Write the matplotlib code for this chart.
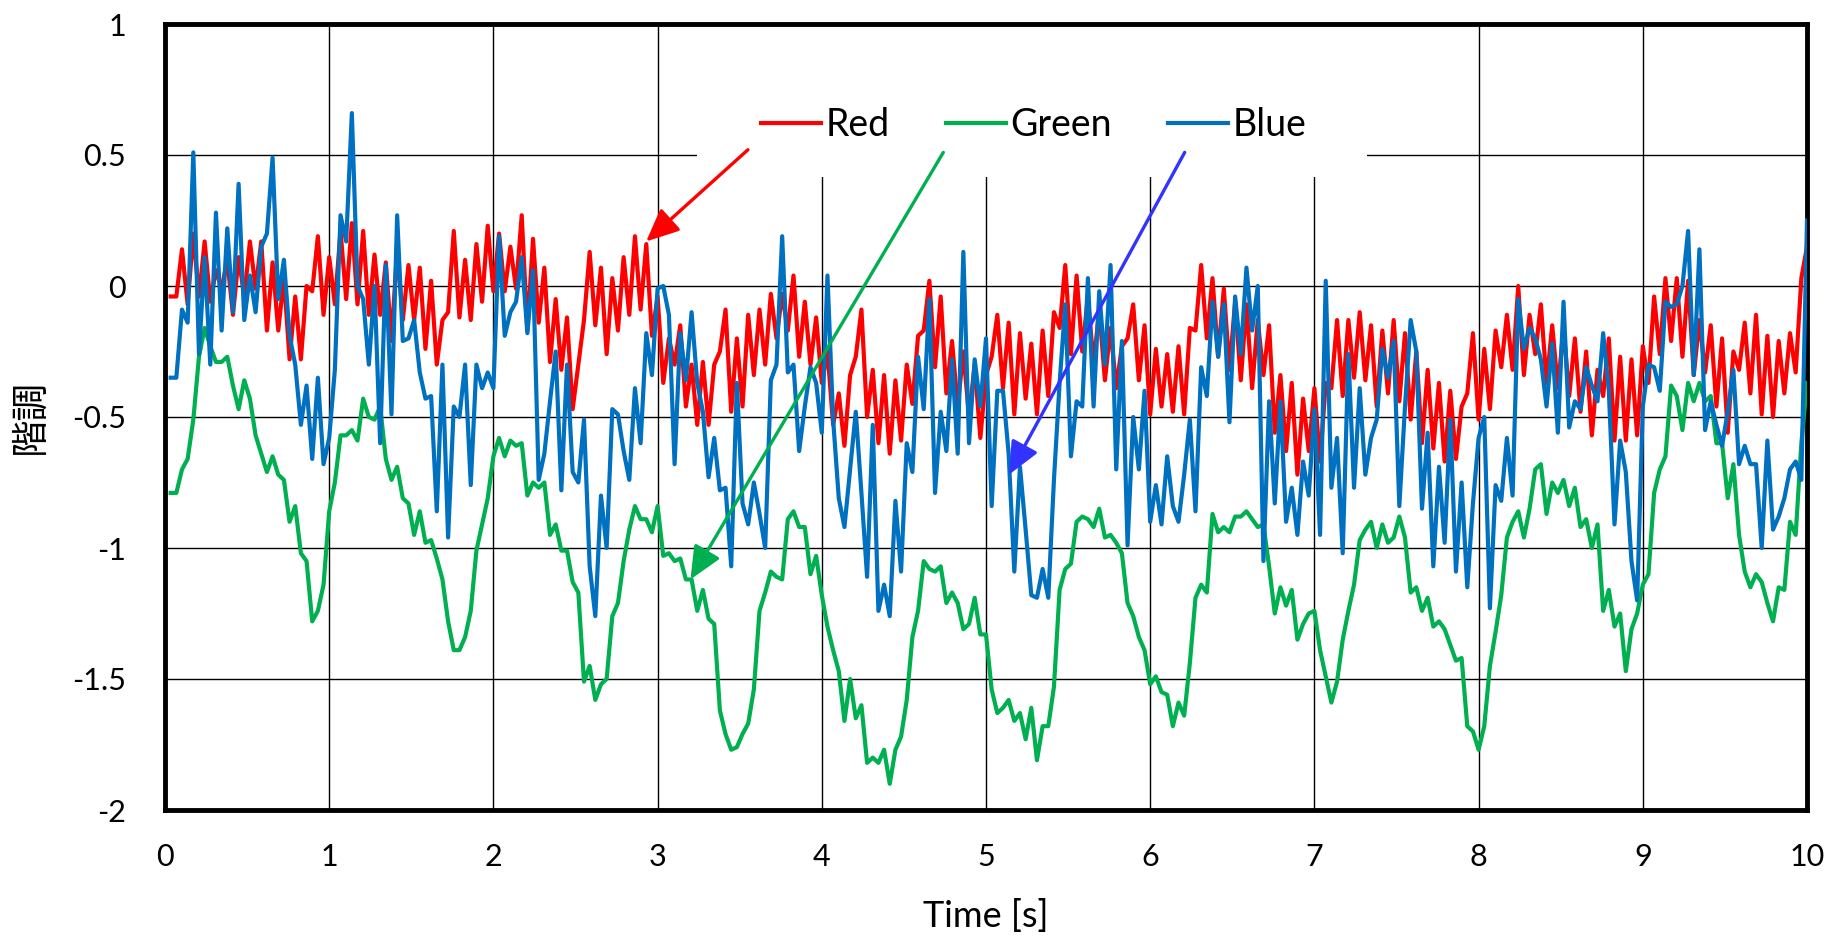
import numpy as np
import matplotlib.pyplot as plt
from matplotlib.patches import Rectangle

plt.rcParams['font.family'] = ['Lato', 'Noto Sans CJK JP', 'DejaVu Sans']

# samples, 29 per second
fps = 29
red = [
    -0.04, -0.04, 0.14, -0.07, 0.20, -0.04, 0.17, -0.06, 0.06, -0.01,
    0.10, -0.11, 0.11, -0.04, 0.17, -0.01, 0.17, -0.17, 0.09, -0.17,
    0.03, -0.28, -0.04, -0.28, 0.00, -0.02, 0.19, -0.11, 0.11, -0.07,
    0.21, -0.05, 0.24, -0.07, 0.21, -0.11, 0.12, -0.11, 0.09, -0.21,
    0.14, -0.13, 0.08, -0.13, 0.07, -0.24, 0.02, -0.30, -0.13, -0.10,
    0.21, -0.12, 0.10, -0.13, 0.16, -0.06, 0.23, -0.02,
    0.20, -0.02, 0.15, -0.01, 0.27, -0.17, 0.18, -0.14, 0.07, -0.29,
    -0.05, -0.32, -0.12, -0.47, -0.30, -0.13, 0.13, -0.15, 0.07, -0.26,
    0.03, -0.17, 0.11, -0.11, 0.19, -0.09, 0.16, -0.19, -0.04, -0.37,
    -0.20, -0.30, -0.15, -0.46, -0.30, -0.53, -0.29, -0.53, -0.30, -0.25,
    -0.09, -0.48,
    -0.20, -0.46, -0.11, -0.34, -0.09, -0.30,
    -0.03, -0.20, -0.03, -0.17, 0.04, -0.27, -0.06, -0.30, -0.12, -0.37,
    -0.25, -0.53, -0.41, -0.61, -0.34, -0.27, -0.09, -0.50, -0.32, -0.60,
    -0.34, -0.64, -0.36, -0.59, -0.30, -0.45, -0.19, -0.17, 0.02, -0.31,
    -0.04, -0.41, -0.21, -0.46, -0.25, -0.50, -0.30, -0.58, -0.34, -0.27,
    -0.11, -0.39, -0.14,
    -0.49, -0.18, -0.43, -0.22, -0.49, -0.17,
    -0.42, -0.10, -0.16, 0.08, -0.26, 0.04, -0.25, -0.04, -0.30, -0.09,
    -0.36, -0.16, -0.39, -0.23, -0.20, -0.07, -0.36, -0.15, -0.49, -0.24,
    -0.46, -0.26, -0.48, -0.23, -0.49, -0.16, -0.17, 0.08, -0.20, 0.03,
    -0.27, -0.01, -0.32, -0.06, -0.36, -0.07, -0.39, -0.13, -0.34, -0.15,
    -0.56, -0.34, -0.63, -0.37,
    -0.72, -0.43, -0.63, -0.39,
    -0.67, -0.37, -0.39, -0.13, -0.42, -0.13, -0.35, -0.10, -0.36, -0.15,
    -0.46, -0.17, -0.41, -0.13, -0.44, -0.18, -0.51, -0.25, -0.60, -0.32,
    -0.62, -0.37, -0.67, -0.40, -0.66, -0.46, -0.41, -0.18, -0.51, -0.24,
    -0.47, -0.17, -0.31, -0.11, -0.32, 0.00, -0.34, -0.11, -0.26, -0.07,
    -0.37, -0.15, -0.39, -0.16, -0.42,
    -0.20, -0.48, -0.25, -0.57, -0.32,
    -0.42, -0.20, -0.59, -0.27, -0.59, -0.28, -0.57, -0.23, -0.37, -0.04,
    -0.26, 0.03, -0.21, 0.03, -0.27, 0.02, -0.34, -0.13, -0.33, -0.15,
    -0.46, -0.20, -0.56, -0.25, -0.32, -0.14, -0.41, -0.11, -0.49, -0.19,
    -0.50, -0.21, -0.41, -0.18, -0.33, 0.03, 0.15,
]
green = [
    -0.79, -0.79, -0.70, -0.66, -0.51, -0.27, -0.16, -0.23, -0.29, -0.29,
    -0.27, -0.38, -0.47, -0.36, -0.43, -0.57, -0.64, -0.71, -0.65, -0.72,
    -0.74, -0.90, -0.84, -1.02, -1.05, -1.28, -1.24, -1.14, -0.86, -0.75,
    -0.57, -0.57, -0.55, -0.59, -0.43, -0.50, -0.51, -0.46, -0.66, -0.74,
    -0.69, -0.81, -0.83, -0.95, -0.86, -0.98, -0.97, -1.04, -1.12, -1.28,
    -1.39, -1.39, -1.34, -1.24, -1.01, -0.91, -0.81, -0.65, -0.58,
    -0.65, -0.59, -0.61, -0.60, -0.80, -0.75, -0.77, -0.75, -0.95, -0.91,
    -1.01, -1.01, -1.13, -1.17, -1.51, -1.45, -1.58, -1.52, -1.50, -1.26,
    -1.21, -1.05, -0.93, -0.84, -0.89, -0.89, -0.94, -0.84, -1.03, -1.02,
    -1.05, -1.04, -1.12, -1.12, -1.24, -1.16, -1.27, -1.29, -1.62, -1.71,
    -1.77,
    -1.76, -1.71, -1.67, -1.54, -1.24, -1.17, -1.09, -1.11, -1.12,
    -0.89, -0.86, -0.92, -0.92, -1.10, -1.03, -1.18, -1.30, -1.39, -1.47,
    -1.66, -1.50, -1.65, -1.60, -1.82, -1.80, -1.82, -1.77, -1.90, -1.77,
    -1.72, -1.58, -1.34, -1.24, -1.05, -1.08, -1.09, -1.07, -1.21, -1.17,
    -1.21, -1.31, -1.29, -1.19, -1.33, -1.33, -1.54, -1.63, -1.61, -1.58,
    -1.66,
    -1.63, -1.73, -1.61, -1.81, -1.68, -1.68, -1.53,
    -1.16, -1.08, -1.06, -0.90, -0.88, -0.89, -0.92, -0.85, -0.96, -0.95,
    -0.98, -1.02, -1.21, -1.26, -1.34, -1.39, -1.52, -1.49, -1.55, -1.56,
    -1.68, -1.59, -1.64, -1.44, -1.19, -1.14, -1.17, -0.87, -0.94, -0.92,
    -0.94, -0.88, -0.88, -0.86, -0.89, -0.92, -0.91, -1.07, -1.25, -1.15,
    -1.22, -1.16,
    -1.35, -1.29, -1.25, -1.24,
    -1.39, -1.49, -1.59, -1.51, -1.35, -1.24, -1.14, -0.97, -0.93, -0.90,
    -1.00, -0.91, -0.98, -0.96, -0.88, -0.96, -1.17, -1.15, -1.24, -1.19,
    -1.30, -1.28, -1.31, -1.37, -1.43, -1.42, -1.68, -1.70, -1.77, -1.68,
    -1.45, -1.32, -1.18, -0.96, -0.90, -0.86, -0.96, -0.85, -0.70, -0.68,
    -0.87, -0.75, -0.79, -0.74, -0.84, -0.77,
    -0.92, -0.89, -1.00, -0.91,
    -1.24, -1.16, -1.30, -1.25, -1.47, -1.31, -1.25, -1.14, -1.10, -0.79,
    -0.70, -0.65, -0.38, -0.42, -0.55, -0.37, -0.44, -0.37, -0.44, -0.42,
    -0.60, -0.60, -0.81, -0.68, -0.95, -1.09, -1.15, -1.10, -1.13, -1.21,
    -1.28, -1.15, -1.16, -0.90, -0.95, -0.60, -0.37,
]
blue = [
    -0.35, -0.35, -0.09, -0.14, 0.51, -0.26, 0.11, -0.30, 0.28, -0.17,
    0.22, -0.10, 0.39, -0.13, 0.04, -0.10, 0.15, 0.20, 0.49, -0.05,
    0.10, -0.19, -0.30, -0.53, -0.38, -0.66, -0.35, -0.68, -0.58, -0.32,
    0.27, 0.17, 0.66, 0.00, -0.05, -0.30, 0.00, -0.60, 0.08, -0.49,
    0.27, -0.21, -0.20, -0.13, -0.33, -0.43, -0.42, -0.86, -0.30, -0.96,
    -0.46, -0.50, -0.30, -0.76, -0.30, -0.39, -0.33, -0.39, 0.19,
    -0.19, -0.10, -0.06, 0.11, -0.18, 0.06, -0.74, -0.64, -0.44, -0.25,
    -0.78, -0.30, -0.71, -0.75, -0.51, -1.07, -1.26, -0.80, -1.00, -0.47,
    -0.49, -0.63, -0.74, -0.39, -0.60, -0.18, -0.34, -0.01, 0.00, -0.11,
    -0.68, -0.18, -0.36, -0.10, -0.37, -0.48, -0.73, -0.58, -0.78, -0.77,
    -1.07,
    -0.37, -0.83, -0.91, -0.75, -0.87, -1.00, -0.36, -0.30,
    0.19, -0.33, -0.30, -0.63, -0.46, -0.31, -0.37, -0.56, 0.04, -0.51,
    -0.81, -0.92, -0.70, -0.48, -0.79, -1.11, -0.53, -1.24, -1.14, -1.26,
    -0.82, -1.09, -0.60, -0.71, -0.27, -0.47, -0.05, -0.79, -0.48, -0.63,
    -0.28, -0.64, 0.13, -0.60, -0.28, -0.46, -0.20, -0.84, -0.40, -0.40,
    -0.64, -1.09,
    -0.69, -0.93, -1.18, -1.19, -1.08, -1.19, -0.74, -0.37,
    -0.07, -0.65, -0.44, -0.46, 0.03, -0.46, -0.02, -0.30, 0.08, -0.70,
    -0.21, -0.99, -0.50, -0.70, -0.40, -0.90, -0.76, -0.91, -0.65, -0.84,
    -0.90, -0.72, -0.51, -0.86, -0.31, -0.42, -0.06, -0.27, -0.07, -0.52,
    -0.04, -0.26, 0.07, -0.17, 0.00, -1.05, -0.44, -0.83, -0.44, -0.90,
    -0.77,
    -0.95, -0.67, -0.80, -0.47,
    -0.95, 0.02, -0.77, -0.58, -1.02, -0.26, -0.77, -0.39, -0.72, -0.58,
    -0.51, -0.24, -0.35, -0.21, -0.84, -0.46, -0.13, -0.25, -0.85, -0.56,
    -1.07, -0.69, -0.98, -0.51, -1.09, -0.75, -1.15, -0.83, -0.58, -0.50,
    -1.23, -0.76, -0.82, -0.58, -0.80, -0.05, -0.24, -0.16, -0.20, -0.28,
    -0.46, -0.22, -0.56, -0.06, -0.54,
    -0.44, -0.47, -0.31, -0.38, -0.44,
    -0.18, -0.40, -0.91, -0.59, -0.71, -1.05, -1.20, -0.46, -0.30, -0.31,
    -0.40, -0.06, -0.08, -0.07, 0.00, 0.21, -0.34, 0.14, -0.55, -0.44,
    -0.53, -0.61, -0.48, -0.32, -0.68, -0.61, -0.68, -0.68, -1.00, -0.59,
    -0.93, -0.88, -0.81, -0.70, -0.67, -0.74, 0.25,
]
series_names = ['Red', 'Green', 'Blue']
series_colors = ['#FF0000', '#00B050', '#0070C0']
arrow_colors = ['#FF0000', '#00B050', '#3333FF']
# arrow (tail, head) in data units
arrow_tails = [(3.55, 0.52), (4.74, 0.51), (6.21, 0.51)]
arrow_heads = [(2.93, 0.17), (3.20, -1.12), (5.14, -0.72)]
xticks = list(range(0, 11))
yticks = [-2, -1.5, -1, -0.5, 0, 0.5, 1]
ytick_labels = ['-2', '-1.5', '-1', '-0.5', '0', '0.5', '1']

t = np.arange(1, len(red) + 1) / fps

fig = plt.figure(figsize=(18.3, 9.4), dpi=100)
ax = fig.add_axes([165 / 1830, 1 - 810 / 940, (1807 - 165) / 1830, (810 - 24) / 940])

for vals, name, col in zip([red, green, blue], series_names, series_colors):
    ax.plot(t, vals, color=col, lw=3.0, label=name, zorder=3)

ax.set_xlim(0, 10)
ax.set_ylim(-2, 1)
ax.set_xticks(xticks)
ax.set_yticks(yticks)
ax.set_yticklabels(ytick_labels)
ax.set_axisbelow(True)
ax.grid(True, color='black', lw=1.0)
ax.tick_params(length=0, labelsize=22)
ax.tick_params(axis='x', pad=24)
ax.tick_params(axis='y', pad=28)
for sp in ax.spines.values():
    sp.set_linewidth(3.5)

# white area behind the legend (hides the grid there)
ax.add_patch(Rectangle((3.24, 0.415), 4.08, 0.6, facecolor='white', edgecolor='none', zorder=1))
ax.legend(loc='center', bbox_to_anchor=(0.529, 0.871), ncol=3, frameon=False, fontsize=27,
          handlelength=1.6, handletextpad=0.12, columnspacing=1.5)

for tail, head, col in zip(arrow_tails, arrow_heads, arrow_colors):
    ax.annotate('', xy=head, xytext=tail,
                arrowprops=dict(arrowstyle='-|>,head_length=1.0,head_width=0.45', color=col,
                                lw=2.4, mutation_scale=20, shrinkA=0, shrinkB=0),
                zorder=6)

ax.set_xlabel('Time [s]', fontsize=26)
ax.xaxis.set_label_coords(0.5, -0.135)
ax.xaxis.label.set_va('center')
ax.set_ylabel('階調', fontsize=27, family=['Noto Sans CJK JP'])
ax.yaxis.set_label_coords(-0.082, 0.5)
ax.yaxis.label.set_va('center')

fig.savefig('out.png', dpi=100)
